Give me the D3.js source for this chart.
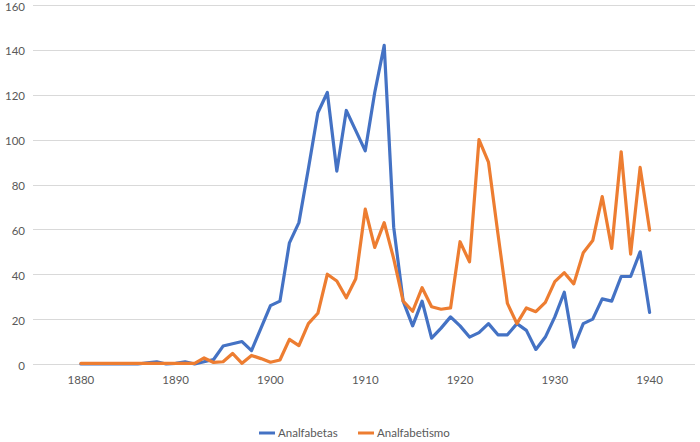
<!DOCTYPE html>
<html>
<head>
<meta charset="utf-8">
<script src="https://cdn.jsdelivr.net/npm/d3@7"></script>
<style>
    body { margin: 0; background: #fff; }
    svg { display: block; font-family: Lato, "Open Sans", sans-serif; }
</style>
</head>
<body>
<svg id="chart" width="700" height="442"></svg>
<script>
// years 1880..1940
const startYear = 1880;
const analfabetas = [
    0, 0, 0, 0, 0, 0, 0, 0.5, 1, 0,
    0.3, 1, 0, 1, 2, 8, 9, 10, 6, 16,
    26, 28, 54, 63, 87, 112, 121, 86, 113, 104,
    95, 121, 142, 61, 28, 17, 28, 11.5, 16, 21,
    17, 12, 14, 18, 13, 13, 18, 15, 6.5, 12,
    21, 32, 7.5, 18, 20, 29, 28, 39, 39, 50,
    23
];
const analfabetismo = [
    0.3, 0.3, 0.3, 0.3, 0.3, 0.3, 0.3, 0.3, 0.3, 0.3,
    0.3, 0.3, 0.3, 2.7, 0.7, 1, 4.7, 0.3, 3.8, 2.4,
    0.8, 1.8, 11, 8.2, 18, 22.6, 40, 37, 29.5, 38,
    69, 52, 63, 47, 28, 23.5, 34, 25.5, 24.4, 25,
    54.5, 45.5, 100, 90, 58, 27, 18, 25, 23.3, 27.5,
    36.7, 40.7, 35.7, 49.6, 55, 74.6, 51.5, 94.6, 49, 87.6,
    59.7
];
const xTicks = [1880, 1890, 1900, 1910, 1920, 1930, 1940];
const yTicks = [0, 20, 40, 60, 80, 100, 120, 140, 160];

const series = [
    { name: "Analfabetas", values: analfabetas, color: "#4472C4" },
    { name: "Analfabetismo", values: analfabetismo, color: "#ED7D31" }
];

const svg = d3.select("#chart");

const x = d3.scaleLinear().domain([1875, 1945]).range([33.5, 697]);
const y = d3.scaleLinear().domain([0, 160]).range([364, 5]);

// gridlines
svg.append("g")
    .selectAll("line")
    .data(yTicks)
    .enter().append("line")
    .attr("x1", 33)
    .attr("x2", 695)
    .attr("y1", d => Math.round(y(d)) + 0.5)
    .attr("y2", d => Math.round(y(d)) + 0.5)
    .attr("stroke", "#d9d9d9")
    .attr("stroke-width", 1);

// y labels (sit a touch below their gridline, as in the original)
svg.append("g")
    .selectAll("text")
    .data(yTicks)
    .enter().append("text")
    .attr("x", 25)
    .attr("y", d => y(d) + 1.5)
    .attr("dy", "0.35em")
    .attr("text-anchor", "end")
    .attr("font-size", 11.5)
    .attr("fill", "#595959")
    .text(d => d);

// x labels
svg.append("g")
    .selectAll("text")
    .data(xTicks)
    .enter().append("text")
    .attr("x", d => x(d))
    .attr("y", 380)
    .attr("dy", "0.35em")
    .attr("text-anchor", "middle")
    .attr("font-size", 11.5)
    .attr("fill", "#595959")
    .text(d => d);

const line = d3.line()
    .x((d, i) => x(startYear + i))
    .y(d => y(d));

svg.append("g")
    .selectAll("path")
    .data(series)
    .enter().append("path")
    .attr("d", d => line(d.values))
    .attr("fill", "none")
    .attr("stroke", d => d.color)
    .attr("stroke-width", 3.2)
    .attr("stroke-linejoin", "round")
    .attr("stroke-linecap", "round");

// legend
const legendPos = [259, 358];
const legend = svg.append("g")
    .selectAll("g")
    .data(series)
    .enter().append("g")
    .attr("transform", (d, i) => "translate(" + legendPos[i] + ",433)");

legend.append("line")
    .attr("x1", 0)
    .attr("x2", 16)
    .attr("stroke", d => d.color)
    .attr("stroke-width", 3);

legend.append("text")
    .attr("x", 19)
    .attr("dy", "0.35em")
    .attr("font-size", 11.5)
    .attr("fill", "#595959")
    .text(d => d.name);
</script>
</body>
</html>
